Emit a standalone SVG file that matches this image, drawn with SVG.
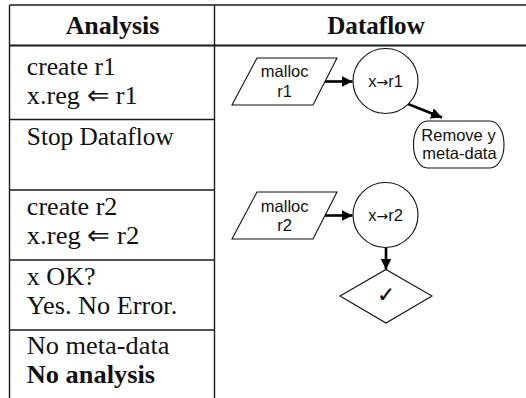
<svg xmlns="http://www.w3.org/2000/svg" width="526" height="398" viewBox="0 0 526 398">
<style>
.grid{stroke:#1a1a1a;stroke-width:1.4;fill:none}
.hdr{stroke:#1a1a1a;stroke-width:2.2;fill:none}
.t{font-family:"Liberation Serif","Times New Roman",serif;font-size:25.5px;fill:#111}
.b{font-weight:bold;text-anchor:middle}
.s{font-family:"Liberation Sans",Arial,sans-serif;font-size:16.5px;fill:#111;text-anchor:middle}
.arr{font-family:"DejaVu Sans",sans-serif;font-size:14px}
.shape{fill:#fff;stroke:#111;stroke-width:1.1}
.conn{stroke:#000;stroke-width:2.6;fill:none}
</style>
<defs>
<marker id="ah" markerUnits="userSpaceOnUse" markerWidth="11" markerHeight="11" refX="10" refY="5" orient="auto" viewBox="0 0 10 10">
<path d="M0,0 L10,5 L0,10 z" fill="#000"/>
</marker>
</defs>
<rect width="526" height="398" fill="#fff"/>
<g id="table">
<line class="grid" x1="9.5" y1="5" x2="526" y2="5"/>
<line class="hdr" x1="9.5" y1="45.5" x2="526" y2="45.5"/>
<line class="grid" x1="9.5" y1="5" x2="9.5" y2="398"/>
<line class="grid" x1="214.5" y1="5" x2="214.5" y2="398"/>
<line class="grid" x1="9.5" y1="119.5" x2="214.5" y2="119.5"/>
<line class="grid" x1="9.5" y1="190" x2="214.5" y2="190"/>
<line class="grid" x1="9.5" y1="260" x2="214.5" y2="260"/>
<line class="grid" x1="9.5" y1="330" x2="214.5" y2="330"/>
<text class="t b" x="112.5" y="34" textLength="93.7" lengthAdjust="spacingAndGlyphs">Analysis</text>
<text class="t b" x="376" y="34" textLength="97.5" lengthAdjust="spacingAndGlyphs">Dataflow</text>
<text class="t" x="26.8" y="75" textLength="89" lengthAdjust="spacingAndGlyphs">create r1</text>
<text class="t" x="26.8" y="104" textLength="110.8" lengthAdjust="spacingAndGlyphs">x.reg ⇐ r1</text>
<text class="t" x="26.8" y="144.5" textLength="147" lengthAdjust="spacingAndGlyphs">Stop Dataflow</text>
<text class="t" x="26.8" y="215" textLength="90.6" lengthAdjust="spacingAndGlyphs">create r2</text>
<text class="t" x="26.8" y="244" textLength="112.5" lengthAdjust="spacingAndGlyphs">x.reg ⇐ r2</text>
<text class="t" x="26.8" y="285" textLength="68.8" lengthAdjust="spacingAndGlyphs">x OK?</text>
<text class="t" x="26.8" y="314" textLength="150.4" lengthAdjust="spacingAndGlyphs">Yes. No Error.</text>
<text class="t" x="26.8" y="354" textLength="142.6" lengthAdjust="spacingAndGlyphs">No meta-data</text>
<text class="t" x="26.8" y="383" font-weight="bold" textLength="128.2" lengthAdjust="spacingAndGlyphs">No analysis</text>
</g>
<g id="connectors">
<line class="conn" x1="323" y1="81.5" x2="352.5" y2="81.5" marker-end="url(#ah)"/>
<line class="conn" x1="408" y1="104" x2="442" y2="117.5" marker-end="url(#ah)"/>
<line class="conn" x1="323" y1="215.5" x2="352.5" y2="215.5" marker-end="url(#ah)"/>
<line class="conn" x1="386" y1="248" x2="386" y2="269.5" marker-end="url(#ah)"/>
</g>
<g id="malloc1">
<polygon class="shape" points="257,58 337,58 313,105 232,105"/>
<text class="s" x="284.7" y="77.3">malloc</text>
<text class="s" x="284.5" y="96.7">r1</text>
</g>
<g id="xr1">
<circle class="shape" cx="385.5" cy="81" r="32.5"/>
<text class="s" x="385.5" y="87">x<tspan class="arr">→</tspan>r1</text>
</g>
<g id="remove">
<rect class="shape" x="413.5" y="121" width="90.5" height="47" rx="14" ry="23"/>
<text class="s" x="458.5" y="140.5">Remove y</text>
<text class="s" x="459.5" y="159">meta-data</text>
</g>
<g id="malloc2">
<polygon class="shape" points="257,192 337,192 313,239 232,239"/>
<text class="s" x="284.7" y="211.5">malloc</text>
<text class="s" x="284.5" y="231">r2</text>
</g>
<g id="xr2">
<circle class="shape" cx="385.5" cy="215" r="32.5"/>
<text class="s" x="385.5" y="221">x<tspan class="arr">→</tspan>r2</text>
</g>
<g id="check">
<polygon class="shape" points="386,269.5 432,296 386,323 340,296"/>
<text x="386" y="302" font-family="DejaVu Sans,sans-serif" font-size="21" text-anchor="middle" fill="#000" stroke="#000" stroke-width="0.3">✓</text>
</g>
</svg>
